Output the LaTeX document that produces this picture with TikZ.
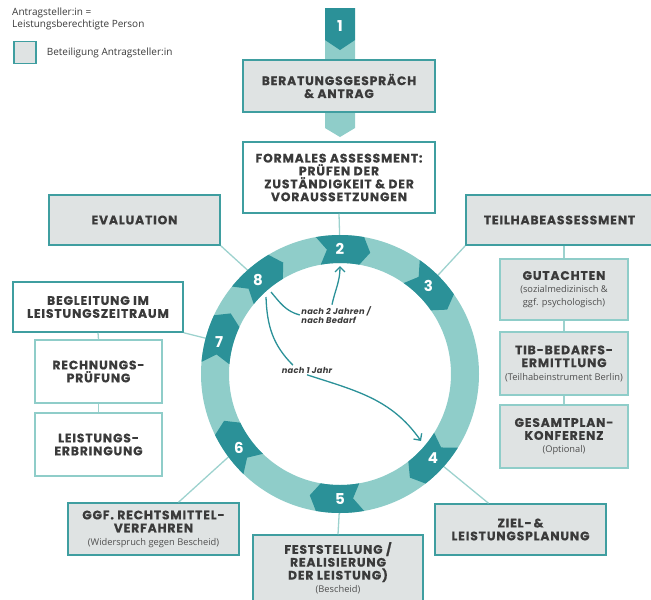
\documentclass[tikz,border=0pt]{standalone}
\usepackage{fontspec}
\setmainfont{Open Sans}
\newfontfamily\headfont{Poppins}[LetterSpace=7,BoldFeatures={FakeBold=0.6}]
\newfontfamily\notefont{Poppins}[LetterSpace=3]
\usetikzlibrary{arrows.meta,positioning}
\definecolor{darkteal}{HTML}{2B9198}
\definecolor{ringteal}{HTML}{8FCDC9}
\definecolor{lineteal}{HTML}{9DD2CE}
\definecolor{boxgray}{HTML}{DFE3E3}
\definecolor{boxline}{HTML}{3F9EA0}
\definecolor{textgray}{HTML}{3A3A3A}
\newcommand\subnote[1]{{\normalfont\fontsize{9.3}{11}\selectfont\color{textgray!90}#1}}
\tikzset{
  stepbox/.style={draw=boxline,fill=boxgray,line width=1.5pt,inner sep=0pt,align=center,
    text=textgray,font=\headfont\bfseries\fontsize{12.3}{12.9}\selectfont},
  stepwhite/.style={stepbox,fill=white},
  subbox/.style={stepbox,draw=ringteal},
  subwhite/.style={stepbox,draw=ringteal,fill=white},
  link/.style={draw=lineteal,line width=1.3pt},
  num/.style={text=white,font=\notefont\bfseries\fontsize{15}{15}\selectfont},
  flow/.style={draw=darkteal,line width=1.3pt},
  note/.style={fill=white,inner sep=1.5pt,text=textgray,
    font=\notefont\bfseries\itshape\fontsize{8.3}{9.3}\selectfont},
  legendtext/.style={text=textgray,inner sep=0pt,font=\fontsize{10}{11.5}\selectfont}
}
\begin{document}
\begin{tikzpicture}[x=1pt,y=1pt]
\useasboundingbox (0,0) rectangle (651,-600);
\coordinate (c) at (340,-374);
\foreach \a/\n in {90/2,45/3,-42/4,-90/5,-144/6,165/7,131/8}
  \coordinate (p\n) at ([shift={(c)}]\a:125);

% legend
\node[legendtext,anchor=north west,align=left] (legend) at (12,-8) {Antragsteller:in =\\Leistungsberechtigte Person};
\node[draw=boxline,fill=boxgray,line width=1.3pt,minimum size=22pt] (legbox) at (25,-52.5) {};
\node[legendtext,right=10pt of legbox] (legtext) {Beteiligung Antragsteller:in};

% step 1
\fill[ringteal] (325,-40) -- (355,-40) -- (355,-128) -- (340,-137) -- (325,-128) -- cycle;
\fill[darkteal] (325,-8) -- (355,-8) -- (355,-40) -- (340,-50) -- (325,-40) -- cycle;
\node[num] (m1) at (340,-26) {1};

% boxes
\node[stepbox,minimum width=192pt,minimum height=52pt] (beratung) at (339,-86) {BERATUNGSGESPRÄCH\\\& ANTRAG};
\node[stepwhite,minimum width=192pt,minimum height=71pt] (formales) at (339,-177.5) {FORMALES ASSESSMENT:\\PRÜFEN DER\\ZUSTÄNDIGKEIT \& DER\\VORAUSSETZUNGEN};
\node[stepbox,minimum width=171pt,minimum height=50pt] (evaluation) at (134.5,-220) {EVALUATION};
\node[stepwhite,minimum width=170pt,minimum height=50pt] (begleitung) at (98,-307) {BEGLEITUNG IM\\LEISTUNGSZEITRAUM};
\node[subwhite,minimum width=127pt,minimum height=63pt] (rechnung) at (98.5,-371.5) {RECHNUNGS-\\PRÜFUNG};
\node[subwhite,minimum width=127pt,minimum height=63pt] (leistung) at (98.5,-444.5) {LEISTUNGS-\\ERBRINGUNG};
\node[stepbox,minimum width=171pt,minimum height=52pt] (rechts) at (153.5,-529) {GGF. RECHTSMITTEL-\\VERFAHREN\\\subnote{(Widerspruch gegen Bescheid)}};
\node[stepbox,minimum width=170pt,minimum height=66pt] (fest) at (338,-568) {FESTSTELLUNG /\\REALISIERUNG\\DER LEISTUNG)\\\subnote{(Bescheid)}};
\node[stepbox,minimum width=171pt,minimum height=51pt] (ziel) at (520.5,-529.5) {ZIEL-\,\&\\LEISTUNGSPLANUNG};
\node[stepbox,minimum width=187pt,minimum height=50pt] (teilhabe) at (559.5,-220) {TEILHABEASSESSMENT};
\node[subbox,minimum width=128pt,minimum height=61pt] (gutachten) at (564,-289.5) {GUTACHTEN\\\subnote{(sozialmedizinisch \&}\\\subnote{ggf. psychologisch)}};
\node[subbox,minimum width=128pt,minimum height=63pt] (tib) at (564,-363.5) {TIB-BEDARFS-\\ERMITTLUNG\\\subnote{(Teilhabeinstrument Berlin)}};
\node[subbox,minimum width=128pt,minimum height=63pt] (gesamt) at (564,-436.5) {GESAMTPLAN-\\KONFERENZ\\\subnote{(Optional)}};

% connectors
\draw[link] (formales.south) -- (p2);
\draw[link] (evaluation.south east) -- (p8);
\draw[link] (begleitung.south east) -- (p7);
\draw[link] (begleitung.south) -- (rechnung.north);
\draw[link] (rechnung.south) -- (leistung.north);
\draw[link] ([xshift=25pt]rechts.north) -- (p6);
\draw[link] (fest.north) -- (p5);
\draw[link] ([xshift=-32pt]ziel.north) -- (p4);
\draw[link] (teilhabe.south west) -- (p3);
\draw[link] (gutachten.north) -- (gutachten.north |- teilhabe.south);
\draw[link] (gutachten.south) -- (tib.north);
\draw[link] (tib.south) -- (gesamt.north);

% ring
\begin{scope}[shift={(c)}]
\fill[ringteal,even odd rule] (0,0) circle[radius=139] circle[radius=111];
\foreach \a/\n in {90/2,45/3,-42/4,-90/5,-144/6,165/7,131/8}{
  \fill[darkteal] (\a+10:139) -- (\a+6:125) -- (\a+10:111)
    arc[start angle=\a+10,end angle=\a-10,radius=111] -- (\a-14:125) -- (\a-10:139)
    arc[start angle=\a-10,end angle=\a+10,radius=139] -- cycle;
  \node[num] (m\n) at (\a:125) {\n};
}
\end{scope}

% inner arrows
\coordinate (a8) at (271,-292);
\coordinate (b8) at (266,-297);
\coordinate (tip2) at (340,-266);
\coordinate (tip4) at (421,-441);
\node[note,align=left] (nach2) at (336,-315) {nach 2 Jahren /\\nach Bedarf};
\node[note] (nach1) at (307,-370) {nach 1 Jahr};
\draw[flow] (a8) to[out=-50,in=165] (nach2.west);
\draw[flow,-{Straight Barb[length=5pt,width=10pt]}] ([xshift=-4pt]nach2.north) to[out=78,in=-90] (tip2);
\draw[flow] (b8) to[out=-88,in=135] ([xshift=-14pt]nach1.north);
\draw[flow,-{Straight Barb[length=5pt,width=10pt]}] (nach1.south) to[out=-18,in=125] (tip4);
\end{tikzpicture}
\end{document}
